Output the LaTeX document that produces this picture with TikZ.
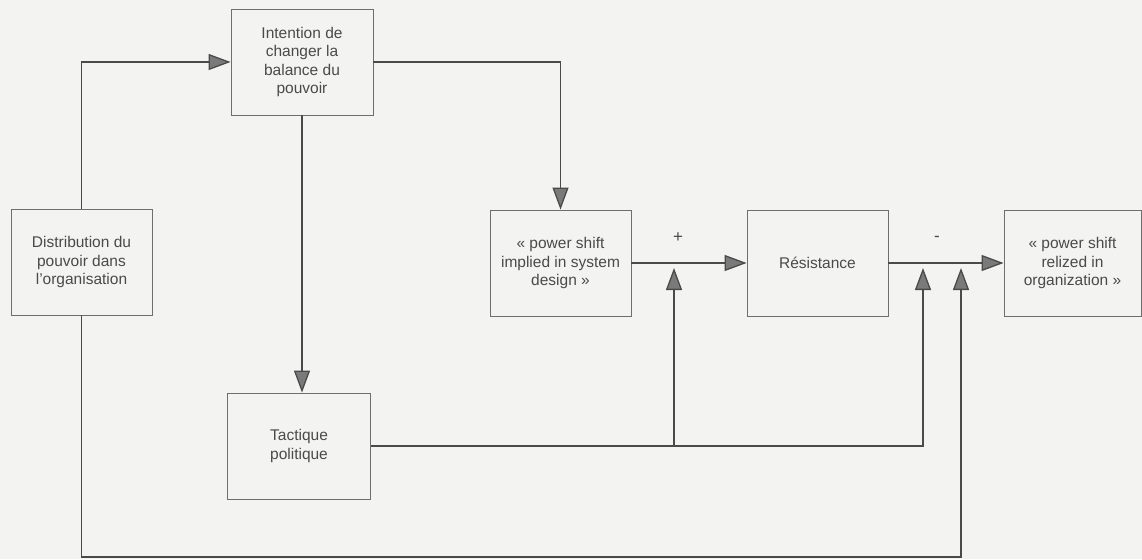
\documentclass[tikz,border=0pt]{standalone}
\usepackage{fontspec}
\setmainfont{Liberation Sans}
\usetikzlibrary{arrows.meta}
\definecolor{paper}{HTML}{F3F3F1}
\definecolor{ink}{HTML}{4A4A4A}
\definecolor{frame}{HTML}{6E6E6E}
\definecolor{headfill}{HTML}{7A7A7A}
\tikzset{
  block/.style={draw=frame, line width=0.9pt, minimum width=141pt, minimum height=106pt,
    inner sep=3pt, align=center, text=ink, font=\fontsize{15.5}{18.3}\selectfont},
  flow/.style={draw=ink, line width=1.3pt,
    -{Triangle[length=22pt,width=16pt,fill=headfill]}},
  sign/.style={text=ink, font=\fontsize{17}{18}\selectfont},
}
\begin{document}
\begin{tikzpicture}[x=1pt,y=-1pt]
  \fill[paper] (0,0) rectangle (1142,559);
  \useasboundingbox (0,0) rectangle (1142,559);

  % boxes
  \node[block] (dist) at (81.5,262) {Distribution du\\pouvoir dans\\l'organisation};
  \node[block, minimum width=142pt] (intent) at (302,62) {Intention de\\changer la\\balance du\\pouvoir};
  \node[block] (implied) at (560.5,263) {« power shift\\implied in system\\design »};
  \node[block] (resist) at (817.5,263) {Résistance};
  \node[block, minimum width=137pt] (realized) at (1072.5,263) {« power shift\\relized in\\organization »};
  \node[block, minimum width=143pt] (tact) at (299,446) {Tactique\\politique};

  % arrow tips arriving from below on the main line
  \coordinate (j1) at (674,268);
  \coordinate (j2) at (923,268);
  \coordinate (j3) at (961,268);
  \coordinate (floor) at (500,557);

  % connectors
  \draw[flow] (dist.north) |- (intent.west);
  \draw[flow] (intent.east) -| (implied.north);
  \draw[flow] (intent.south) -- (intent.south |- tact.north);
  \draw[flow] (implied.east) -- (resist.west);
  \draw[flow] (resist.east) -- (realized.west);
  \draw[flow] (tact.east) -| (j2);
  \draw[flow] (j1 |- tact.east) -- (j1);
  \draw[flow] (dist.south) |- (floor) -| (j3);

  % signs
  \node[sign] (plus) at (678,238) {+};
  \node[sign] (minus) at (937,239) {-};
\end{tikzpicture}
\end{document}
